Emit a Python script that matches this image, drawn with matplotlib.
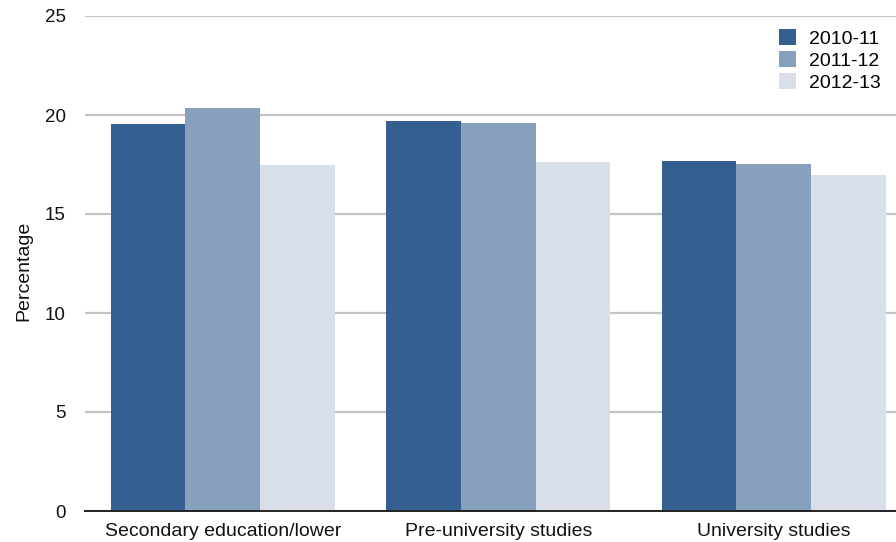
import matplotlib
matplotlib.use("Agg")
import matplotlib.pyplot as plt
import numpy as np

plt.rcParams['font.family'] = ['Liberation Sans', 'DejaVu Sans']

categories = ["Secondary education/lower", "Pre-university studies", "University studies"]
series_names = ["2010-11", "2011-12", "2012-13"]
values_2010_11 = [19.55, 19.70, 17.68]
values_2011_12 = [20.35, 19.60, 17.53]
values_2012_13 = [17.47, 17.63, 16.97]
colors = ["#365f91", "#87a0be", "#d8dfe9"]

fig = plt.figure(figsize=(8.96, 5.42), dpi=100)
W, H = 896, 542
left_px, right_px = 85, 911.5
top_px, bottom_px = 16, 511
ax = fig.add_axes([left_px / W, (H - bottom_px) / H,
                   (right_px - left_px) / W, (bottom_px - top_px) / H])

x = np.arange(len(categories))
bar_w = 0.271
series = [values_2010_11, values_2011_12, values_2012_13]
for i, (vals, name, c) in enumerate(zip(series, series_names, colors)):
    ax.bar(x + (i - 1) * bar_w, vals, width=bar_w, color=c, label=name,
           zorder=3, linewidth=0)

ax.set_xlim(-0.5, 2.5)
ax.set_ylim(0, 25)
ax.set_yticks([0, 5, 10, 15, 20, 25])
ax.yaxis.grid(True, color="#c4c4c4", linewidth=1.6, zorder=0)
ax.set_axisbelow(True)
for s in ["top", "right", "left"]:
    ax.spines[s].set_visible(False)
ax.spines["bottom"].set_color("#222222")
ax.spines["bottom"].set_linewidth(1.4)
ax.spines["bottom"].set_zorder(4)
ax.tick_params(axis="y", length=0, pad=14, labelsize=13.5, labelcolor="#111111")
ax.tick_params(axis="x", length=0, pad=9, labelsize=14, labelcolor="#111111")
ax.set_xticks(x)
ax.set_xticklabels(categories)
ax.set_ylabel("Percentage", fontsize=14, color="#111111")
ax.yaxis.set_label_coords(32 / W, 0.5, transform=fig.transFigure)

leg = ax.legend(loc="upper left", bbox_to_anchor=(779 / W, 1 - 29 / H),
                bbox_transform=fig.transFigure, frameon=False, fontsize=14,
                handlelength=0.88, handleheight=0.88, handletextpad=0.67,
                labelspacing=0.17, borderpad=0, borderaxespad=0)

fig.savefig("out.png", dpi=100)
